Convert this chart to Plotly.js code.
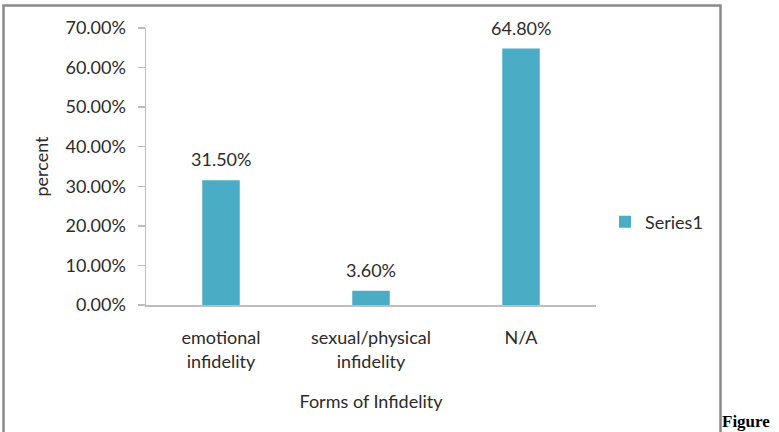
<!DOCTYPE html>
<html>
<head>
<meta charset="utf-8">
<script src="https://cdn.plot.ly/plotly-3.0.1.min.js"></script>
<style>
  html, body { margin: 0; padding: 0; background: #fff; }
  #chart { width: 779px; height: 432px; }
</style>
</head>
<body>
<div id="chart"></div>
<script>
// Forms of infidelity reported, share of respondents
const categories = ['emotional<br>infidelity', 'sexual/physical<br>infidelity', 'N/A'];
const seriesName = 'Series1';
const percentValues = [0.315, 0.036, 0.648];
const yTickValues = [0, 0.1, 0.2, 0.3, 0.4, 0.5, 0.6, 0.7];

const W = 779, H = 432;
const M = { l: 146, r: 183, t: 28, b: 127 };
const plotW = W - M.l - M.r, plotH = H - M.t - M.b;
// pixel -> paper helpers for the outer frame and caption
const px = x => (x - M.l) / plotW;
const py = y => (H - M.b - y) / plotH;

const FONT = 'Lato, "Open Sans", sans-serif';
const FS = 18;
const TXT = '#2b2b2b';
const BAR = '#4BACC6';

const trace = {
  type: 'bar',
  name: seriesName,
  x: categories,
  y: percentValues,
  width: 0.25,
  marker: { color: BAR },
  hoverinfo: 'skip'
};

const valueLabels = categories.map((c, i) => ({
  x: c, y: percentValues[i], xref: 'x', yref: 'y',
  text: (percentValues[i] * 100).toFixed(2) + '%',
  showarrow: false, yanchor: 'bottom', yshift: 8,
  font: { family: FONT, size: FS, color: TXT }
}));

const layout = {
  width: W, height: H,
  margin: M,
  paper_bgcolor: '#fff', plot_bgcolor: '#fff',
  font: { family: FONT, size: FS, color: TXT },
  bargap: 0.75,
  showlegend: true,
  legend: {
    x: px(605), y: py(222), xanchor: 'left', yanchor: 'middle',
    font: { family: FONT, size: FS, color: TXT },
    itemwidth: 30, bgcolor: 'rgba(0,0,0,0)'
  },
  xaxis: {
    showline: true, linecolor: '#bdbdbd', linewidth: 1.5,
    ticks: '', showgrid: false, zeroline: false,
    ticklabelstandoff: 16,
    tickfont: { family: FONT, size: FS, color: TXT },
    title: { text: 'Forms of Infidelity', standoff: 25, font: { family: FONT, size: FS, color: TXT } },
    fixedrange: true
  },
  yaxis: {
    range: [0, 0.7],
    tickvals: yTickValues,
    tickformat: '.2%',
    showline: true, linecolor: '#bdbdbd', linewidth: 1.5,
    ticks: 'outside', ticklen: 7, tickcolor: '#bdbdbd', tickwidth: 1.5,
    ticklabelstandoff: 8,
    showgrid: false, zeroline: false,
    tickfont: { family: FONT, size: FS, color: TXT },
    title: { text: 'percent', standoff: 12, font: { family: FONT, size: FS, color: TXT } },
    fixedrange: true
  },
  shapes: [
    {
      type: 'rect', xref: 'paper', yref: 'paper', layer: 'above',
      x0: px(3.5), x1: px(720.5), y0: py(5.5), y1: py(445),
      line: { color: '#8a8a8a', width: 2.5 }, fillcolor: 'rgba(0,0,0,0)'
    },
    {
      // extend the category axis line under the 0% tick
      type: 'line', xref: 'paper', yref: 'y', layer: 'above',
      x0: px(138), x1: 0, y0: 0, y1: 0,
      line: { color: '#bdbdbd', width: 1.5 }
    }
  ],
  annotations: valueLabels.concat([
    {
      xref: 'paper', yref: 'paper', x: px(720), y: py(433),
      xanchor: 'left', yanchor: 'bottom', showarrow: false,
      text: '<b>Figure</b>',
      font: { family: '"Liberation Serif", "Times New Roman", serif', size: 17, color: '#000' }
    }
  ])
};

Plotly.newPlot('chart', [trace], layout, { displayModeBar: false, staticPlot: true });
</script>
</body>
</html>
